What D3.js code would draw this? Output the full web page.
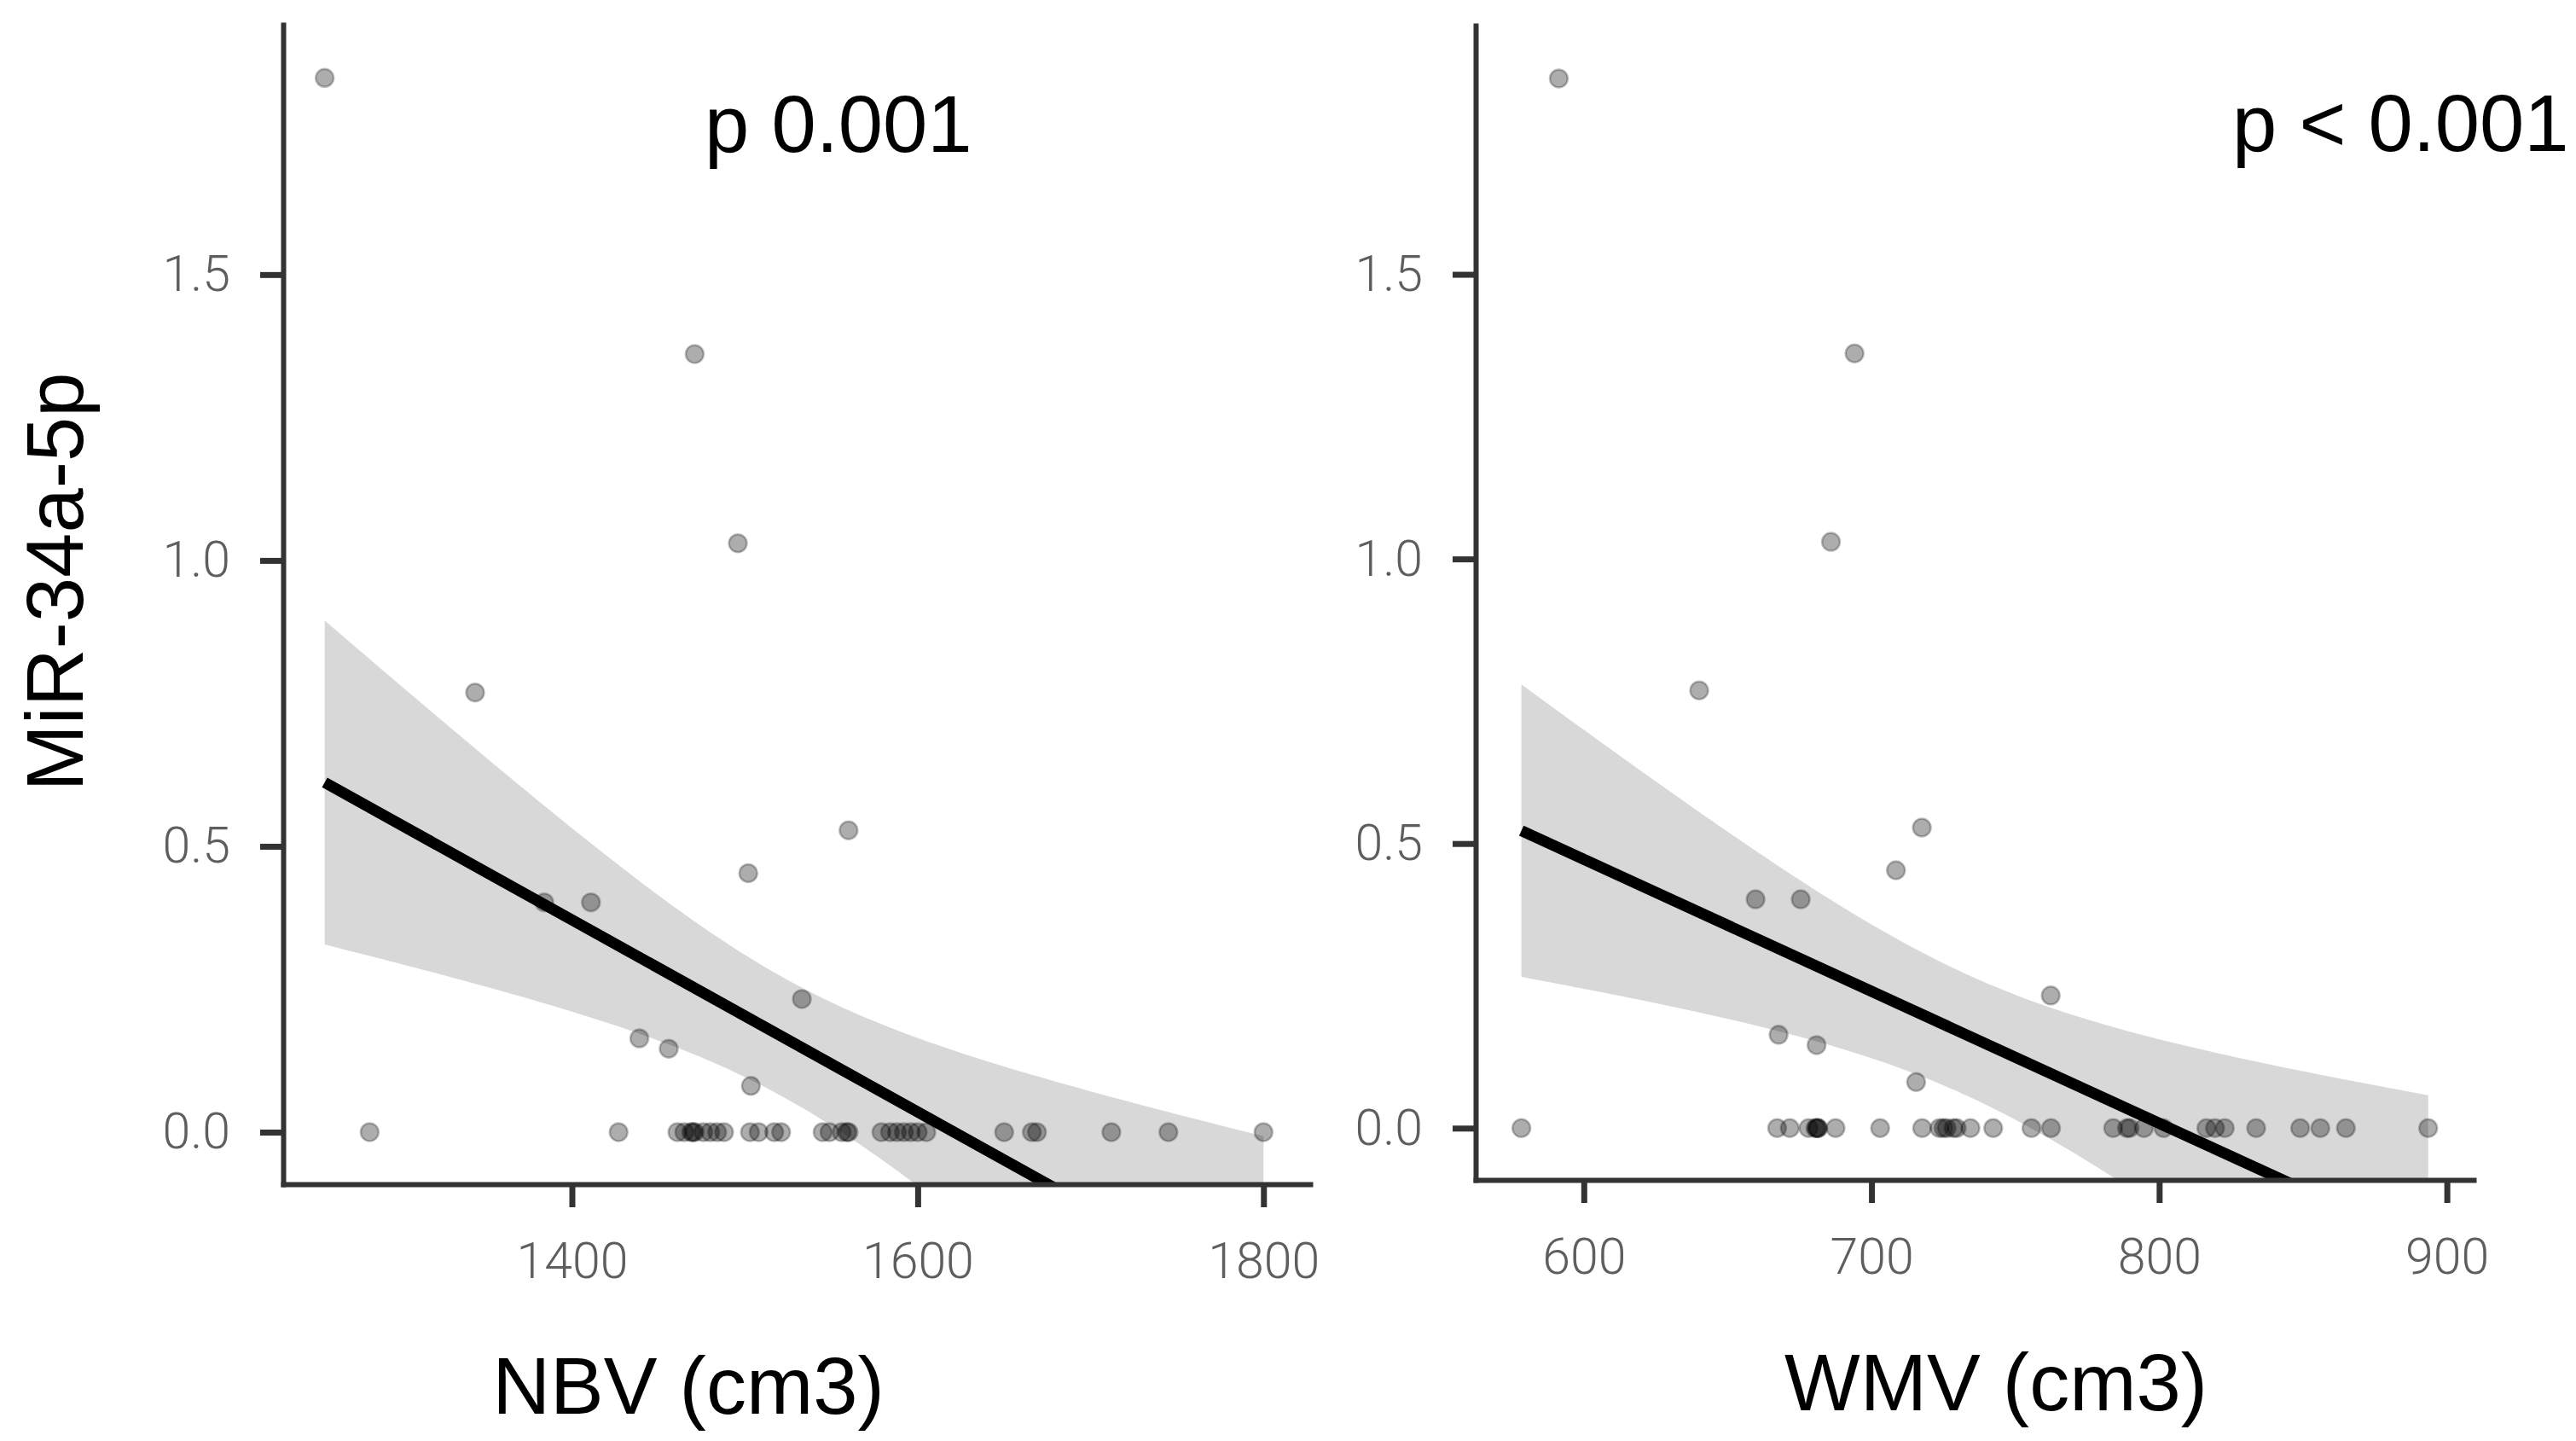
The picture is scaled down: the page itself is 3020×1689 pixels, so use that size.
<!DOCTYPE html>
<html>
<head>
<meta charset="utf-8">
<title>MiR-34a-5p vs brain volumes</title>
<script src="https://cdn.jsdelivr.net/npm/d3@7"></script>
<style>
    html, body { margin: 0; padding: 0; background: #fff; }
    svg { display: block; }
</style>
</head>
<body>
<div id="chart"></div>
<script>
// MiR-34a-5p expression (same patients in both panels)
const mirValues = [
    1.844, 1.361, 1.030, 0.769, 0.528, 0.453, 0.402, 0.402, 0.233, 0.164, 0.146, 0.081,
    0, 0, 0, 0, 0, 0, 0, 0, 0, 0, 0, 0, 0, 0, 0, 0, 0, 0, 0, 0, 0,
    0, 0, 0, 0, 0, 0, 0, 0, 0, 0, 0, 0
];

// Normalised brain volume (cm3)
const nbvValues = [
    1257, 1471, 1496, 1344, 1560, 1502, 1384, 1411, 1533, 1439, 1456, 1503.5,
    1283, 1427, 1461, 1465, 1469, 1470, 1471, 1476, 1480, 1484, 1488, 1503, 1508,
    1517, 1521, 1545, 1549, 1556, 1559, 1560, 1579, 1584, 1588, 1592, 1596, 1600,
    1605, 1650, 1666, 1669, 1712, 1745, 1800
];

// White matter volume (cm3)
const wmvValues = [
    591.3, 694.1, 685.9, 640.1, 717.5, 708.5, 659.7, 675.4, 762.3, 667.7, 680.9, 715.5,
    578.3, 667.2, 671.6, 678.1, 680.5, 681.0, 681.2, 681.5, 687.5, 703.0, 717.6, 723.6,
    725.0, 726.1, 728.5, 729.6, 734.4, 742.3, 755.6, 762.4, 784.0, 788.8, 789.7, 794.7,
    801.5, 816.4, 819.4, 822.8, 833.7, 849.0, 856.0, 864.9, 893.5
];

// Tick values
const yTicks = [0, 0.5, 1.0, 1.5];
const nbvTicks = [1400, 1600, 1800];
const wmvTicks = [600, 700, 800, 900];

// Axis titles and annotations
const yTitle = 'MiR-34a-5p';
const xTitles = ['NBV (cm3)', 'WMV (cm3)'];
const pLabels = ['p 0.001', 'p < 0.001'];

const width = 3020;
const height = 1689;
const textFont = '"Liberation Sans", Arial, Helvetica, sans-serif';
const tickFont = 'Roboto, "Liberation Sans", Arial, sans-serif';

// Panel layout
const panels = [
    {
        xValues: nbvValues, xTicks: nbvTicks, xTitle: xTitles[0], pLabel: pLabels[0],
        xDomain: [1233, 1827], xRange: [332, 1536],
        yDomain: [-0.091, 1.937], yRange: [1388, 29],
        titleX: 807, titleY: 1657, pX: 826, pY: 178
    },
    {
        xValues: wmvValues, xTicks: wmvTicks, xTitle: xTitles[1], pLabel: pLabels[1],
        xDomain: [562.4, 909.3], xRange: [1730, 2900],
        yDomain: [-0.091, 1.937], yRange: [1383, 30],
        titleX: 2340, titleY: 1653, pX: 2617, pY: 177
    }
];

// Approximate two-sided 95% t quantile (Cornish-Fisher expansion)
function tQuantile(df) {
    const z = 1.959964;
    return z + (z ** 3 + z) / (4 * df) +
        (5 * z ** 5 + 16 * z ** 3 + 3 * z) / (96 * df * df);
}

// Ordinary least squares fit with standard error, like geom_smooth(method = 'lm')
function linearFit(xs, ys) {
    const n = xs.length;
    const xbar = d3.mean(xs);
    const ybar = d3.mean(ys);
    let sxx = 0, sxy = 0;
    xs.forEach((x, i) => {
        sxx += (x - xbar) ** 2;
        sxy += (x - xbar) * (ys[i] - ybar);
    });
    const slope = sxy / sxx;
    const intercept = ybar - slope * xbar;
    let sse = 0;
    xs.forEach((x, i) => {
        sse += (ys[i] - (intercept + slope * x)) ** 2;
    });
    const s = Math.sqrt(sse / (n - 2));
    const t = tQuantile(n - 2);
    return {
        predict: x => intercept + slope * x,
        halfWidth: x => t * s * Math.sqrt(1 / n + (x - xbar) ** 2 / sxx)
    };
}

const svg = d3.select('#chart')
    .append('svg')
    .attr('width', width)
    .attr('height', height)
    .attr('viewBox', [0, 0, width, height]);

svg.append('rect')
    .attr('width', width)
    .attr('height', height)
    .attr('fill', '#fff');

function drawPanel(p, idx) {
    const x = d3.scaleLinear().domain(p.xDomain).range(p.xRange);
    const y = d3.scaleLinear().domain(p.yDomain).range(p.yRange);

    const clipId = 'clip-' + idx;
    svg.append('clipPath')
        .attr('id', clipId)
        .append('rect')
        .attr('x', p.xRange[0])
        .attr('y', p.yRange[1])
        .attr('width', p.xRange[1] - p.xRange[0])
        .attr('height', p.yRange[0] - p.yRange[1]);

    const plot = svg.append('g').attr('clip-path', `url(#${clipId})`);

    // Regression line and confidence band
    const fit = linearFit(p.xValues, mirValues);
    const [xmin, xmax] = d3.extent(p.xValues);
    const grid = d3.range(0, 101).map(i => xmin + i * (xmax - xmin) / 100);

    const band = d3.area()
        .x(d => x(d))
        .y0(d => y(fit.predict(d) - fit.halfWidth(d)))
        .y1(d => y(fit.predict(d) + fit.halfWidth(d)));

    plot.append('path')
        .datum(grid)
        .attr('d', band)
        .attr('fill', '#999999')
        .attr('fill-opacity', 0.38);

    // Points
    plot.append('g')
        .selectAll('circle')
        .data(p.xValues.map((v, i) => [v, mirValues[i]]))
        .join('circle')
        .attr('cx', d => x(d[0]))
        .attr('cy', d => y(d[1]))
        .attr('r', 10.5)
        .attr('fill', '#000')
        .attr('fill-opacity', 0.32)
        .attr('stroke', '#000')
        .attr('stroke-opacity', 0.25)
        .attr('stroke-width', 2.5);

    plot.append('path')
        .datum([xmin, xmax])
        .attr('d', d3.line().x(d => x(d)).y(d => y(fit.predict(d))))
        .attr('fill', 'none')
        .attr('stroke', '#000')
        .attr('stroke-width', 13);

    // Axes
    const xAxis = svg.append('g')
        .attr('transform', `translate(0,${p.yRange[0]})`)
        .call(d3.axisBottom(x).tickValues(p.xTicks).tickFormat(d3.format('d'))
            .tickSize(27).tickSizeOuter(0).tickPadding(41));

    const yAxis = svg.append('g')
        .attr('transform', `translate(${p.xRange[0]},0)`)
        .call(d3.axisLeft(y).tickValues(yTicks).tickFormat(d3.format('.1f'))
            .tickSize(27).tickSizeOuter(0).tickPadding(35));

    [xAxis, yAxis].forEach(ax => {
        ax.select('.domain')
            .attr('stroke', '#333')
            .attr('stroke-width', 6)
            .attr('stroke-linecap', 'square');
        ax.selectAll('.tick line')
            .attr('stroke', '#333')
            .attr('stroke-width', 7);
        ax.selectAll('.tick text')
            .attr('fill', '#5e5e5e')
            .attr('font-family', tickFont)
            .attr('font-weight', 300)
            .attr('font-size', 59);
    });

    // Axis title
    svg.append('text')
        .attr('x', p.titleX)
        .attr('y', p.titleY)
        .attr('text-anchor', 'middle')
        .attr('font-family', textFont)
        .attr('font-size', 94)
        .attr('fill', '#000')
        .text(p.xTitle);

    // p value annotation
    svg.append('text')
        .attr('x', p.pX)
        .attr('y', p.pY)
        .attr('font-family', textFont)
        .attr('font-size', 94)
        .attr('fill', '#000')
        .text(p.pLabel);
}

panels.forEach(drawPanel);

// Shared y-axis title
svg.append('text')
    .attr('transform', 'translate(97,682) rotate(-90)')
    .attr('text-anchor', 'middle')
    .attr('font-family', textFont)
    .attr('font-size', 94)
    .attr('fill', '#000')
    .text(yTitle);
</script>
</body>
</html>
